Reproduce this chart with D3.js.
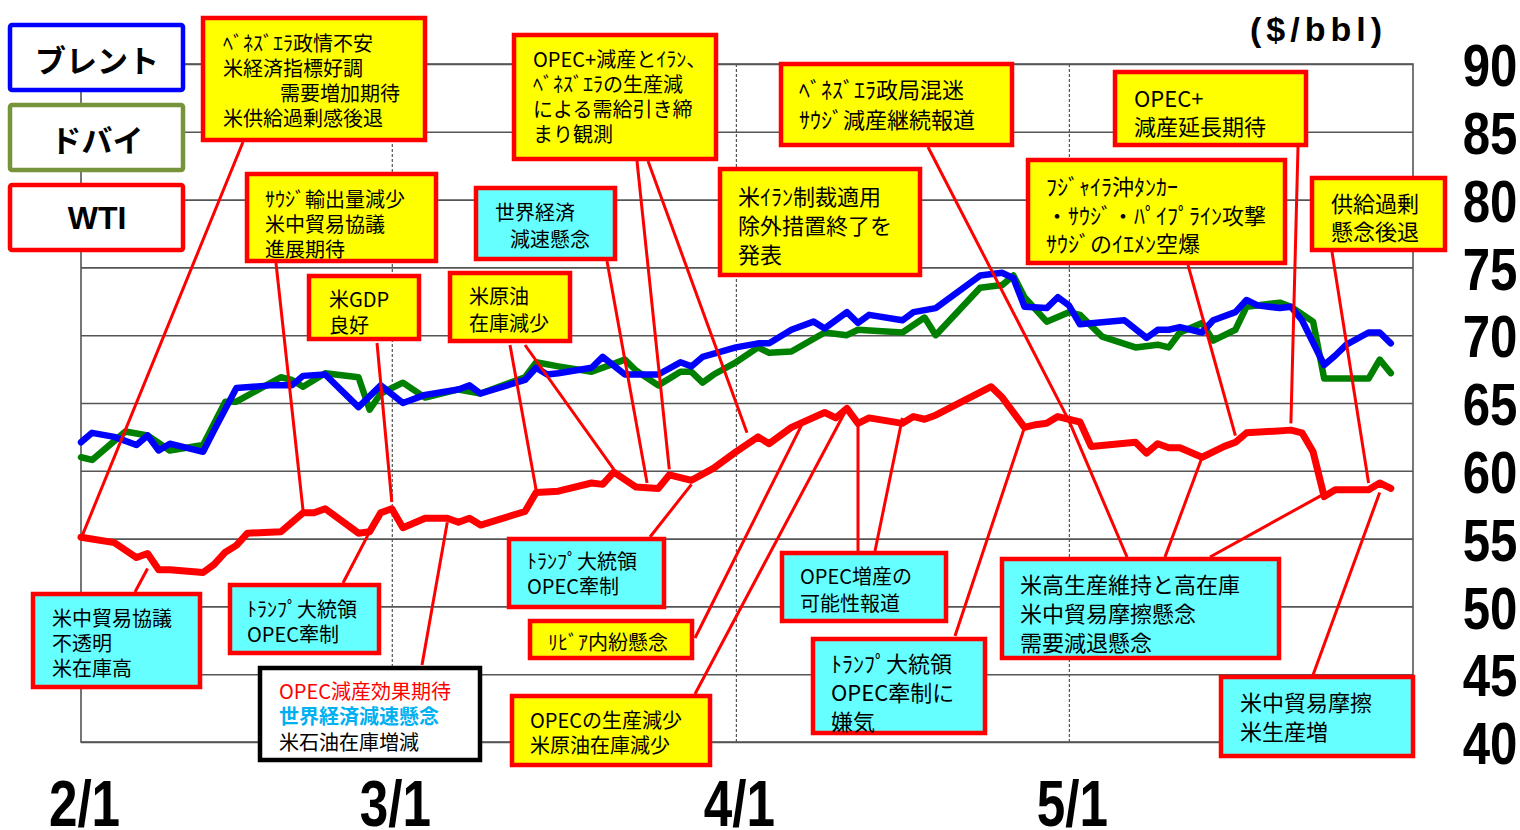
<!DOCTYPE html>
<meta charset="utf-8">
<script src="https://cdnjs.cloudflare.com/ajax/libs/d3/7.8.5/d3.min.js"></script>
<style>
  body { margin: 0; background: #fff; }
  svg text { font-family: "Noto Sans CJK JP", "Noto Sans", sans-serif; }
</style>
<body>
<div id="chart"></div>
<script>

// ---- data ----
var yTicks = [40, 45, 50, 55, 60, 65, 70, 75, 80, 85, 90];
var monthTicks = ["2/1", "3/1", "4/1", "5/1"];
var seriesNames = ["ブレント", "ドバイ", "WTI"];

var brentDates = ["2/1","2/2","2/4","2/6","2/7","2/8","2/9","2/12","2/13","2/15","2/18","2/20","2/21","2/23",
  "2/26","2/28","3/2","3/4","3/7","3/8","3/9","3/13","3/14","3/15","3/16","3/19","3/20","3/22","3/25","3/27",
  "3/28","3/29","4/1","4/3","4/4","4/6","4/8","4/9","4/11","4/12","4/13","4/16","4/17","4/19","4/23","4/25",
  "4/26","4/27","4/29","4/30","5/1","5/2","5/6","5/8","5/9","5/10","5/11","5/13","5/14","5/16","5/17","5/18",
  "5/20","5/21","5/22","5/24","5/25","5/26","5/28","5/29","5/30"];
var brentValues = [62.1,62.8,62.5,61.9,62.6,61.5,62.0,61.4,63.0,66.1,66.3,66.3,67.0,67.1,
  64.7,66.3,65.0,65.6,66.0,66.3,65.7,66.7,67.6,67.1,67.2,67.6,68.4,67.1,67.1,68.0,
  67.7,68.4,69.1,69.4,69.4,70.4,71.0,70.5,71.7,70.9,71.5,71.1,71.7,72.0,74.4,74.6,
  74.2,72.1,72.0,72.8,72.2,70.8,71.1,69.8,70.4,70.4,70.6,70.2,71.1,71.7,72.6,72.2,
  72.0,72.1,71.1,67.8,68.5,69.3,70.2,70.2,69.4];

var dubaiDates = ["2/1","2/2","2/5","2/7","2/9","2/12","2/14","2/15","2/19","2/20","2/21","2/23","2/26","2/27",
  "2/28","3/2","3/4","3/7","3/9","3/13","3/14","3/16","3/19","3/22","3/23","3/25","3/27","3/28","3/29","3/30",
  "4/1","4/3","4/4","4/6","4/9","4/11","4/12","4/16","4/18","4/19","4/23","4/25","4/26","4/27","4/29","5/1",
  "5/2","5/4","5/7","5/9","5/10","5/11","5/13","5/14","5/16","5/17","5/20","5/21","5/23","5/24","5/28","5/29","5/30"];
var dubaiValues = [61.0,60.8,62.9,62.6,61.5,61.9,65.1,65.1,66.9,66.7,66.2,67.2,66.9,64.5,
  65.7,66.5,65.4,66.0,65.7,66.9,68.0,67.7,67.3,68.2,67.4,66.3,67.3,67.3,66.5,67.1,
  68.0,69.1,68.7,68.8,70.2,70.0,70.4,70.2,71.3,70.0,73.5,73.7,74.4,72.8,71.0,71.7,
  71.5,69.9,69.1,69.3,69.1,70.2,70.9,69.6,70.4,72.1,72.4,72.1,71.0,66.8,66.8,68.2,67.2];

var wtiDates = ["2/1","2/4","2/6","2/7","2/8","2/9","2/12","2/13","2/14","2/15","2/16","2/19","2/21","2/22",
  "2/23","2/26","2/27","2/28","3/1","3/2","3/4","3/6","3/7","3/8","3/9","3/13","3/14","3/16","3/19","3/20",
  "3/21","3/23","3/25","3/26","3/28","3/30","4/1","4/3","4/4","4/6","4/9","4/10","4/11","4/12","4/13","4/16",
  "4/17","4/18","4/19","4/24","4/25","4/27","4/28","4/29","4/30","5/2","5/3","5/7","5/8","5/9","5/10","5/11",
  "5/13","5/15","5/16","5/17","5/21","5/22","5/23","5/24","5/25","5/28","5/29","5/30"];
var wtiValues = [55.1,54.7,53.6,53.9,52.7,52.7,52.5,53.1,54.0,54.5,55.4,55.5,56.9,56.9,
  57.2,55.4,55.5,56.9,57.2,55.8,56.5,56.5,56.2,56.5,56.0,57.0,58.4,58.5,59.1,59.0,
  59.9,58.8,58.7,59.7,59.3,60.2,61.4,62.5,62.0,63.2,64.3,63.9,64.6,63.5,63.9,63.5,
  64.0,63.8,64.1,66.2,65.4,63.2,63.4,63.5,64.0,63.6,61.8,62.1,61.3,62.0,61.7,61.7,
  61.0,61.8,62.1,62.8,63.0,62.8,61.4,58.1,58.6,58.6,59.1,58.7];

// annotation texts
var noteTexts = [
  ["ﾍﾞﾈｽﾞｴﾗ政情不安", "米経済指標好調", "需要増加期待", "米供給過剰感後退"],
  ["ｻｳｼﾞ輸出量減少", "米中貿易協議", "進展期待"],
  ["世界経済", "減速懸念"],
  ["OPEC+減産とｲﾗﾝ、", "ﾍﾞﾈｽﾞｴﾗの生産減", "による需給引き締", "まり観測"],
  ["ﾍﾞﾈｽﾞｴﾗ政局混迷", "ｻｳｼﾞ減産継続報道"],
  ["米ｲﾗﾝ制裁適用", "除外措置終了を", "発表"],
  ["OPEC+", "減産延長期待"],
  ["ﾌｼﾞｬｲﾗ沖ﾀﾝｶｰ", "・ｻｳｼﾞ・ﾊﾟｲﾌﾟﾗｲﾝ攻撃", "ｻｳｼﾞのｲｴﾒﾝ空爆"],
  ["供給過剰", "懸念後退"],
  ["米GDP", "良好"],
  ["米原油", "在庫減少"],
  ["米中貿易協議", "不透明", "米在庫高"],
  ["ﾄﾗﾝﾌﾟ大統領", "OPEC牽制"],
  ["OPEC減産効果期待", "世界経済減速懸念", "米石油在庫増減"],
  ["ﾄﾗﾝﾌﾟ大統領", "OPEC牽制"],
  ["ﾘﾋﾞｱ内紛懸念"],
  ["OPECの生産減少", "米原油在庫減少"],
  ["OPEC増産の", "可能性報道"],
  ["ﾄﾗﾝﾌﾟ大統領", "OPEC牽制に", "嫌気"],
  ["米高生産維持と高在庫", "米中貿易摩擦懸念", "需要減退懸念"],
  ["米中貿易摩擦", "米生産増"]
];
// where each leader line points on the WTI curve
var leaderDates = ["2/1","2/21","3/24","3/26","4/2","3/14","3/21","3/1","2/7","2/27","3/6","3/28",
  "4/7","4/11","4/12","4/16","4/27","5/1","5/1","5/13","5/24","5/16","5/21","5/28","5/29"];
var leaderValues = [55.0,57.1,59.1,60.1,62.8,58.6,60.1,57.7,52.8,55.5,56.2,59.0,
  63.5,64.6,63.5,63.9,63.2,63.7,63.7,61.0,58.3,62.6,63.5,59.1,58.4];

// ---- layout ----
var W = 1520, H = 830;
var plot = {left: 81, right: 1413, top: 64, bottom: 742};
var YEL = "#ffff00", CYA = "#66ffff", RED = "#ff0000";

var boxLayout = [
  {x:201, y:16,  w:226, h:126, fill:YEL, fs:20, tx:223,  ty:42,  dy:25.3, indent:[0,0,57,0]},
  {x:245, y:172, w:193, h:91,  fill:YEL, fs:20, tx:265,  ty:198, dy:25},
  {x:474, y:186, w:143, h:75,  fill:CYA, fs:20, tx:495,  ty:211, dy:27, indent:[0,15]},
  {x:512, y:33,  w:206, h:128, fill:YEL, fs:20, tx:533,  ty:58,  dy:25},
  {x:779, y:62,  w:235, h:85,  fill:YEL, fs:22, tx:799,  ty:88,  dy:30},
  {x:718, y:167, w:204, h:110, fill:YEL, fs:22, tx:738,  ty:195, dy:29},
  {x:1113,y:70,  w:195, h:77,  fill:YEL, fs:22, tx:1134, ty:97,  dy:28},
  {x:1026,y:158, w:261, h:107, fill:YEL, fs:22, tx:1046, ty:185, dy:28.5},
  {x:1310,y:176, w:137, h:76,  fill:YEL, fs:22, tx:1331, ty:202, dy:28},
  {x:307, y:274, w:114, h:67,  fill:YEL, fs:20, tx:329,  ty:298, dy:26},
  {x:448, y:271, w:124, h:72,  fill:YEL, fs:20, tx:469,  ty:295, dy:27},
  {x:31,  y:592, w:171, h:97,  fill:CYA, fs:20, tx:52,   ty:617, dy:25},
  {x:228, y:583, w:153, h:72,  fill:CYA, fs:20, tx:247,  ty:608, dy:25},
  {x:258, y:666, w:224, h:96,  fill:"#fff", stroke:"#000", fs:20, tx:279, ty:690, dy:25.5,
     colors:[RED, "#00b0f0", "#000"], weights:[400, 700, 400]},
  {x:507, y:537, w:159, h:72,  fill:CYA, fs:20, tx:527,  ty:560, dy:25},
  {x:528, y:619, w:166, h:41,  fill:YEL, fs:20, tx:548,  ty:641, dy:0},
  {x:510, y:694, w:202, h:73,  fill:YEL, fs:20, tx:530,  ty:719, dy:25},
  {x:780, y:551, w:168, h:72,  fill:CYA, fs:20, tx:800,  ty:575, dy:27},
  {x:811, y:637, w:176, h:98,  fill:CYA, fs:22, tx:831,  ty:662, dy:29},
  {x:1000,y:557, w:281, h:103, fill:CYA, fs:22, tx:1020, ty:583, dy:29},
  {x:1219,y:675, w:196, h:83,  fill:CYA, fs:22, tx:1240, ty:701, dy:29}
];
// start point (on a box edge) of each leader line
var leaderStarts = [[243,142],[276,263],[607,261],[637,161],[648,161],[510,345],[525,345],[377,343],
  [135,592],[343,583],[422,665],[650,537],[695,638],[695,694],[858,551],[875,551],[955,636],
  [928,147],[1127,557],[1165,557],[1210,557],[1188,265],[1298,147],[1332,252],[1313,675]];

var parseDay = d3.utcParse("%Y/%m/%d");
function toDate(s) { return parseDay("2019/" + s); }

var x = d3.scaleUtc().domain([toDate("2/1"), toDate("6/1")]).range([plot.left, plot.right]);
var y = d3.scaleLinear().domain([40, 90]).range([plot.bottom, plot.top]);

var svg = d3.select("#chart").append("svg")
    .attr("width", W)
    .attr("height", H);

// horizontal grid
svg.append("g")
    .attr("transform", "translate(" + plot.left + ",0)")
    .call(d3.axisLeft(y).tickValues(yTicks).tickSize(-(plot.right - plot.left)).tickFormat(""))
    .call(function(g) { g.select(".domain").remove(); })
    .selectAll("line").attr("stroke", "#555").attr("stroke-width", 1.6);

// dashed month lines
svg.append("g")
    .attr("transform", "translate(0," + plot.bottom + ")")
    .call(d3.axisBottom(x).tickValues(monthTicks.slice(1).map(toDate)).tickSize(-(plot.bottom - plot.top)).tickFormat(""))
    .call(function(g) { g.select(".domain").remove(); })
    .selectAll("line").attr("stroke", "#555").attr("stroke-width", 1.2).attr("stroke-dasharray", "3,2");

// frame
svg.append("rect")
    .attr("x", plot.left).attr("y", plot.top)
    .attr("width", plot.right - plot.left).attr("height", plot.bottom - plot.top)
    .attr("fill", "none").attr("stroke", "#555").attr("stroke-width", 1.6);

// price lines
var line = d3.line()
    .x(function(d) { return x(d.date); })
    .y(function(d) { return y(d.value); });

function pack(dates, values) {
  return dates.map(function(s, i) { return {date: toDate(s), value: values[i]}; });
}

var series = [
  {data: pack(dubaiDates, dubaiValues), color: "#008000", width: 6.5},
  {data: pack(brentDates, brentValues), color: "#0000ff", width: 6.5},
  {data: pack(wtiDates, wtiValues), color: "#ff0000", width: 7}
];

svg.selectAll(".price")
    .data(series)
    .enter().append("path")
    .attr("class", "price")
    .attr("d", function(d) { return line(d.data); })
    .attr("fill", "none")
    .attr("stroke", function(d) { return d.color; })
    .attr("stroke-width", function(d) { return d.width; })
    .attr("stroke-linejoin", "round")
    .attr("stroke-linecap", "round");

// y labels on the right
var yAx = svg.append("g")
    .attr("transform", "translate(1490,0)")
    .call(d3.axisRight(y).tickValues(yTicks).tickSize(0).tickPadding(0));
yAx.select(".domain").remove();
yAx.selectAll("text")
    .attr("x", 0).attr("dy", "0.36em")
    .attr("text-anchor", "middle")
    .attr("transform", "scale(0.82,1)")
    .style("font-family", "'Liberation Sans', Arial, sans-serif")
    .style("font-weight", "bold")
    .style("font-size", "60px")
    .attr("fill", "#000");

// month labels
var xAx = svg.append("g")
    .attr("transform", "translate(3,826)")
    .call(d3.axisBottom(x).tickValues(monthTicks.map(toDate)).tickSize(0)
      .tickFormat(d3.utcFormat("%-m/%-d")));
xAx.select(".domain").remove();
xAx.selectAll("text")
    .attr("y", 0).attr("dy", 0)
    .attr("text-anchor", "middle")
    .attr("transform", "scale(0.8,1)")
    .style("font-family", "'Liberation Sans', Arial, sans-serif")
    .style("font-weight", "bold")
    .style("font-size", "64px")
    .attr("fill", "#000");

// unit
svg.append("text")
    .attr("x", 1250).attr("y", 41)
    .style("font-family", "'Liberation Sans', Arial, sans-serif")
    .style("font-weight", "bold")
    .style("font-size", "34px")
    .style("letter-spacing", "5px")
    .text("($/bbl)");

// legend
var legendColors = ["#0000ff", "#77933c", "#ff0000"];
var legendTop = [23, 103, 183];
var lg = svg.selectAll(".legend")
    .data(seriesNames)
    .enter().append("g")
    .attr("class", "legend");
lg.append("rect")
    .attr("x", 10).attr("y", function(d, i) { return legendTop[i] + 2; })
    .attr("width", 173).attr("height", 65).attr("rx", 2)
    .attr("fill", "#fff")
    .attr("stroke", function(d, i) { return legendColors[i]; })
    .attr("stroke-width", 4.5);
lg.append("text")
    .attr("x", 97).attr("y", function(d, i) { return legendTop[i] + 35; })
    .attr("text-anchor", "middle")
    .attr("dominant-baseline", "central")
    .style("font-weight", "bold")
    .style("font-size", function(d) { return d === "WTI" ? "32px" : "31px"; })
    .style("font-family", function(d) { return d === "WTI" ? "'Liberation Sans', Arial, sans-serif" : null; })
    .text(function(d) { return d; });

// leader lines
svg.selectAll(".leader")
    .data(leaderStarts)
    .enter().append("line")
    .attr("class", "leader")
    .attr("x1", function(d) { return d[0]; })
    .attr("y1", function(d) { return d[1]; })
    .attr("x2", function(d, i) { return x(toDate(leaderDates[i])); })
    .attr("y2", function(d, i) { return y(leaderValues[i]); })
    .attr("stroke", "#ff0000")
    .attr("stroke-width", 3);

// annotation boxes
var notes = svg.selectAll(".note")
    .data(boxLayout)
    .enter().append("g")
    .attr("class", "note");
notes.append("rect")
    .attr("x", function(d) { return d.x + 2; })
    .attr("y", function(d) { return d.y + 2; })
    .attr("width", function(d) { return d.w - 4; })
    .attr("height", function(d) { return d.h - 4; })
    .attr("fill", function(d) { return d.fill; })
    .attr("stroke", function(d) { return d.stroke || "#ff0000"; })
    .attr("stroke-width", 4.5);
notes.each(function(b, k) {
  d3.select(this).selectAll("text")
    .data(noteTexts[k])
    .enter().append("text")
    .attr("x", function(t, i) { return b.tx + (b.indent ? b.indent[i] : 0); })
    .attr("y", function(t, i) { return b.ty + i * b.dy; })
    .attr("dominant-baseline", "central")
    .style("font-size", b.fs + "px")
    .style("font-weight", function(t, i) { return b.weights ? b.weights[i] : 400; })
    .attr("fill", function(t, i) { return b.colors ? b.colors[i] : "#000"; })
    .text(function(t) { return t; });
});

</script>
</body>
